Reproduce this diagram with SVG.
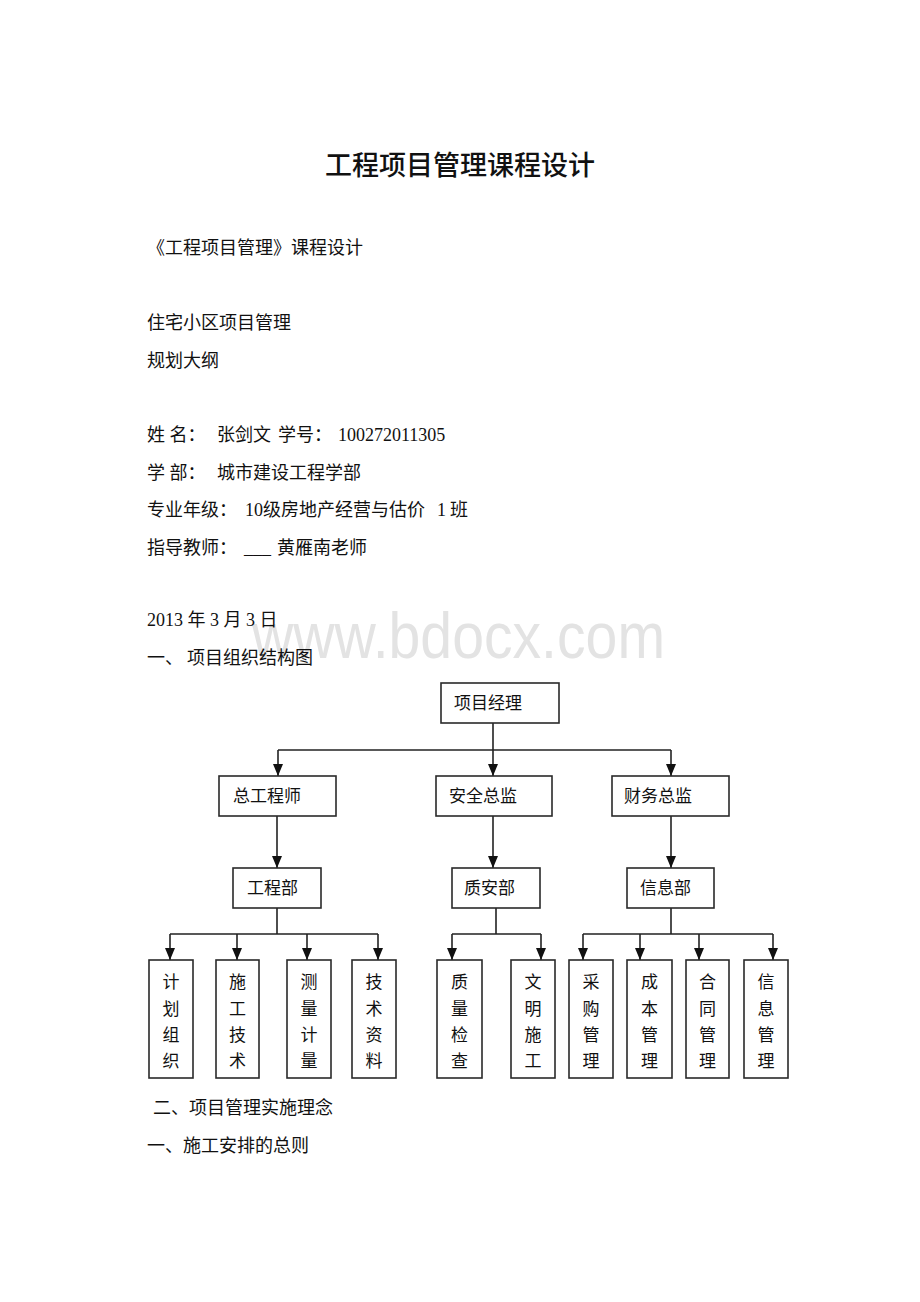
<svg xmlns="http://www.w3.org/2000/svg" width="920" height="1302" viewBox="0 0 920 1302">
<style>
.t{font-family:"Liberation Serif","Noto Sans CJK SC",serif;font-size:18px;fill:#111}
.n{font-family:"Liberation Serif","Noto Sans CJK SC",serif;font-size:17px;fill:#111}
.title{font-family:"Noto Sans CJK SC",sans-serif;font-size:27px;font-weight:500;fill:#111}
.wm{font-family:"Liberation Sans",Arial,sans-serif;font-size:64px;fill:#e3e3e3}
.box{fill:#fff;stroke:#2a2a2a;stroke-width:1.6}
.c{fill:none;stroke:#222;stroke-width:1.6}
.lc{text-anchor:middle}
</style>
<defs>
<marker id="ah" viewBox="0 -5 12 10" markerWidth="12" markerHeight="10" refX="12" refY="0" orient="auto" markerUnits="userSpaceOnUse">
<path d="M0,-5 L12,0 L0,5 z" fill="#111"/>
</marker>
</defs>
<rect width="920" height="1302" fill="#fff"/>
<text class="wm" x="252" y="658" textLength="413" lengthAdjust="spacingAndGlyphs">www.bdocx.com</text>
<text class="title" x="460" y="175" text-anchor="middle">工程项目管理课程设计</text>
<text class="t" x="147" y="254">《工程项目管理》课程设计</text>
<text class="t" x="147" y="329">住宅小区项目管理</text>
<text class="t" x="147" y="367">规划大纲</text>
<text class="t" y="441"><tspan x="147">姓 名：</tspan><tspan x="217">张剑文</tspan><tspan x="278">学号：</tspan><tspan x="338">100272011305</tspan></text>
<text class="t" y="479"><tspan x="147">学 部：</tspan><tspan x="217">城市建设工程学部</tspan></text>
<text class="t" y="516"><tspan x="147">专业年级：</tspan><tspan x="245">10</tspan><tspan x="263">级房地产经营与估价</tspan><tspan x="437">1</tspan><tspan x="450">班</tspan></text>
<text class="t" y="554"><tspan x="147">指导教师：</tspan><tspan x="244">___</tspan><tspan x="277">黄雁南老师</tspan></text>
<text class="t" x="147" y="626">2013 年 3 月 3 日</text>
<text class="t" y="664"><tspan x="147">一、</tspan><tspan x="187">项目组织结构图</tspan></text>
<text class="t" x="153" y="1114">二、项目管理实施理念</text>
<text class="t" x="147" y="1152">一、施工安排的总则</text>

<g id="connectors">
<path class="c" d="M493,723 V776" marker-end="url(#ah)"/>
<path class="c" d="M278,750 H671"/>
<path class="c" d="M278,750 V776" marker-end="url(#ah)"/>
<path class="c" d="M671,750 V776" marker-end="url(#ah)"/>
<path class="c" d="M277,816 V868" marker-end="url(#ah)"/>
<path class="c" d="M493,816 V868" marker-end="url(#ah)"/>
<path class="c" d="M671,816 V868" marker-end="url(#ah)"/>
<path class="c" d="M277,908 V934 M170,934 H378"/>
<path class="c" d="M170,934 V960" marker-end="url(#ah)"/>
<path class="c" d="M237,934 V960" marker-end="url(#ah)"/>
<path class="c" d="M307,934 V960" marker-end="url(#ah)"/>
<path class="c" d="M378,934 V960" marker-end="url(#ah)"/>
<path class="c" d="M496,908 V934 M452,934 H541"/>
<path class="c" d="M452,934 V960" marker-end="url(#ah)"/>
<path class="c" d="M541,934 V960" marker-end="url(#ah)"/>
<path class="c" d="M671,908 V934 M583,934 H773"/>
<path class="c" d="M583,934 V960" marker-end="url(#ah)"/>
<path class="c" d="M640,934 V960" marker-end="url(#ah)"/>
<path class="c" d="M699,934 V960" marker-end="url(#ah)"/>
<path class="c" d="M773,934 V960" marker-end="url(#ah)"/>
</g>

<g id="pm"><rect class="box" x="441" y="683" width="118" height="40"/><text class="n" x="454" y="709">项目经理</text></g>
<g id="chief-eng"><rect class="box" x="219" y="776" width="117" height="40"/><text class="n" x="233" y="802">总工程师</text></g>
<g id="safety-dir"><rect class="box" x="436" y="776" width="116" height="40"/><text class="n" x="449" y="802">安全总监</text></g>
<g id="finance-dir"><rect class="box" x="612" y="776" width="117" height="40"/><text class="n" x="624" y="802">财务总监</text></g>
<g id="eng-dept"><rect class="box" x="233" y="868" width="88" height="40"/><text class="n" x="247" y="894">工程部</text></g>
<g id="qs-dept"><rect class="box" x="452" y="868" width="88" height="40"/><text class="n" x="464" y="894">质安部</text></g>
<g id="info-dept"><rect class="box" x="627" y="868" width="87" height="40"/><text class="n" x="640" y="894">信息部</text></g>

<g id="leaf1"><rect class="box" x="149" y="960" width="44" height="118"/><text class="n lc"><tspan x="171" y="988">计</tspan><tspan x="171" y="1015">划</tspan><tspan x="171" y="1041">组</tspan><tspan x="171" y="1067">织</tspan></text></g>
<g id="leaf2"><rect class="box" x="216" y="960" width="43" height="118"/><text class="n lc"><tspan x="237.5" y="988">施</tspan><tspan x="237.5" y="1015">工</tspan><tspan x="237.5" y="1041">技</tspan><tspan x="237.5" y="1067">术</tspan></text></g>
<g id="leaf3"><rect class="box" x="287" y="960" width="44" height="118"/><text class="n lc"><tspan x="309" y="988">测</tspan><tspan x="309" y="1015">量</tspan><tspan x="309" y="1041">计</tspan><tspan x="309" y="1067">量</tspan></text></g>
<g id="leaf4"><rect class="box" x="352" y="960" width="44" height="118"/><text class="n lc"><tspan x="374" y="988">技</tspan><tspan x="374" y="1015">术</tspan><tspan x="374" y="1041">资</tspan><tspan x="374" y="1067">料</tspan></text></g>
<g id="leaf5"><rect class="box" x="437" y="960" width="45" height="118"/><text class="n lc"><tspan x="459.5" y="988">质</tspan><tspan x="459.5" y="1015">量</tspan><tspan x="459.5" y="1041">检</tspan><tspan x="459.5" y="1067">查</tspan></text></g>
<g id="leaf6"><rect class="box" x="511" y="960" width="44" height="118"/><text class="n lc"><tspan x="533" y="988">文</tspan><tspan x="533" y="1015">明</tspan><tspan x="533" y="1041">施</tspan><tspan x="533" y="1067">工</tspan></text></g>
<g id="leaf7"><rect class="box" x="569" y="960" width="44" height="118"/><text class="n lc"><tspan x="591" y="988">采</tspan><tspan x="591" y="1015">购</tspan><tspan x="591" y="1041">管</tspan><tspan x="591" y="1067">理</tspan></text></g>
<g id="leaf8"><rect class="box" x="627" y="960" width="45" height="118"/><text class="n lc"><tspan x="649.5" y="988">成</tspan><tspan x="649.5" y="1015">本</tspan><tspan x="649.5" y="1041">管</tspan><tspan x="649.5" y="1067">理</tspan></text></g>
<g id="leaf9"><rect class="box" x="686" y="960" width="43" height="118"/><text class="n lc"><tspan x="707.5" y="988">合</tspan><tspan x="707.5" y="1015">同</tspan><tspan x="707.5" y="1041">管</tspan><tspan x="707.5" y="1067">理</tspan></text></g>
<g id="leaf10"><rect class="box" x="744" y="960" width="44" height="118"/><text class="n lc"><tspan x="766" y="988">信</tspan><tspan x="766" y="1015">息</tspan><tspan x="766" y="1041">管</tspan><tspan x="766" y="1067">理</tspan></text></g>
</svg>
